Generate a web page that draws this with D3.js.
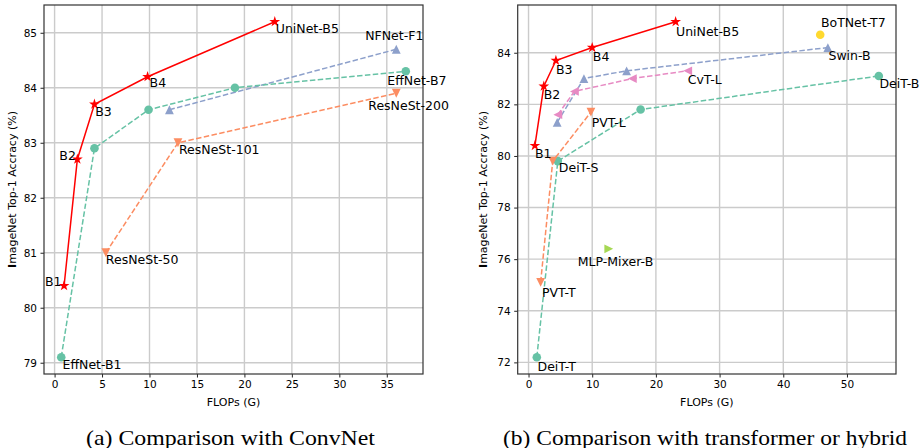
<!DOCTYPE html>
<html>
<head>
<meta charset="utf-8">
<script src="https://cdn.jsdelivr.net/npm/d3@7"></script>
<style>
body { margin: 0; background: white; }
svg text { font-family: "DejaVu Sans", sans-serif; fill: #000; }
</style>
</head>
<body>
<div id="chart"></div>
<script>
const width = 923;
const height = 448;

// ---- (a) comparison with ConvNet ----
const uniFlopsA = [1.0, 2.4, 4.2, 9.8, 23.2];
const uniAccA = [80.4, 82.7, 83.7, 84.2, 85.2];
const uniNamesA = ["B1", "B2", "B3", "B4", "UniNet-B5"];

const effFlops = [0.7, 4.2, 9.9, 19.0, 37.0];
const effAcc = [79.1, 82.9, 83.6, 84.0, 84.3];
const effNames = ["EffNet-B1", "", "", "", "EffNet-B7"];

const nfFlops = [12.1, 36.0];
const nfAcc = [83.6, 84.7];
const nfNames = ["", "NFNet-F1"];

const resnestFlops = [5.4, 13.0, 36.0];
const resnestAcc = [81.0, 83.0, 83.9];
const resnestNames = ["ResNeSt-50", "ResNeSt-101", "ResNeSt-200"];

const xTicksA = [0, 5, 10, 15, 20, 25, 30, 35];
const yTicksA = [79, 80, 81, 82, 83, 84, 85];

// ---- (b) comparison with transformer or hybrid ----
const uniFlopsB = [1.0, 2.4, 4.3, 10.0, 23.1];
const uniAccB = [80.4, 82.7, 83.7, 84.2, 85.2];
const uniNamesB = ["B1", "B2", "B3", "B4", "UniNet-B5"];

const deitFlops = [1.3, 4.6, 17.6, 55.0];
const deitAcc = [72.2, 79.8, 81.8, 83.1];
const deitNames = ["DeiT-T", "DeiT-S", "", "DeiT-B"];

const pvtFlops = [1.9, 3.8, 9.8];
const pvtAcc = [75.1, 79.8, 81.7];
const pvtNames = ["PVT-T", "", "PVT-L"];

const swinFlops = [4.5, 8.7, 15.4, 47.0];
const swinAcc = [81.3, 83.0, 83.3, 84.2];
const swinNames = ["", "", "", "Swin-B"];

const cvtFlops = [4.6, 7.2, 16.3, 25.0];
const cvtAcc = [81.6, 82.5, 83.0, 83.3];
const cvtNames = ["", "", "", "CvT-L"];

const botFlops = [45.8];
const botAcc = [84.7];
const botNames = ["BoTNet-T7"];

const mixerFlops = [12.6];
const mixerAcc = [76.4];
const mixerNames = ["MLP-Mixer-B"];

const xTicksB = [0, 10, 20, 30, 40, 50];
const yTicksB = [72, 74, 76, 78, 80, 82, 84];

// label placement: anchor, dx, dy (pixels from the point, dy to baseline)
const labelPosA = {
    "B1": ["end", -2.5, 0.5], "B2": ["end", -1.5, 0.5], "B3": ["start", 0.7, 11.3],
    "B4": ["start", 2, 10], "UniNet-B5": ["start", 1, 11.3],
    "EffNet-B1": ["start", 1.3, 11.3], "EffNet-B7": ["start", -18.4, 13.3],
    "NFNet-F1": ["middle", -2, -9.5],
    "ResNeSt-50": ["start", 0, 11.7], "ResNeSt-101": ["start", 1, 11.3], "ResNeSt-200": ["start", -28, 17]
};
const labelPosB = {
    "B1": ["start", 0, 12], "B2": ["start", 0, 13], "B3": ["start", 0, 13.3],
    "B4": ["start", 0.6, 13.3], "UniNet-B5": ["start", 0.4, 14],
    "DeiT-T": ["start", 0.7, 13.7], "DeiT-S": ["start", 1, 11.3], "DeiT-B": ["start", 0.6, 12.3],
    "PVT-T": ["start", 1.4, 14.3], "PVT-L": ["start", 0.7, 14.7],
    "Swin-B": ["start", 0.6, 12.3], "CvT-L": ["start", 0, 13.3],
    "BoTNet-T7": ["start", 0.7, -7.5], "MLP-Mixer-B": ["start", -31, 16.7]
};

const svg = d3.select("#chart")
    .append("svg")
    .attr("width", width)
    .attr("height", height);

function markerPath(type) {
    if (type === "star") return d3.symbol(d3.symbolStar, 36)();
    if (type === "circle") return d3.symbol(d3.symbolCircle, 58)();
    const h = 4.4;
    const up = [[0, -h], [-h, h], [h, h]];
    const rot = {up: 0, down: 180, left: -90, right: 90}[type];
    const a = rot * Math.PI / 180;
    const pts = up.map(p => [p[0] * Math.cos(a) - p[1] * Math.sin(a), p[0] * Math.sin(a) + p[1] * Math.cos(a)]);
    return "M" + pts.map(p => p.join(",")).join("L") + "Z";
}

// matplotlib style 5% margins around the data
function padded(vals) {
    const ext = d3.extent(vals);
    const m = (ext[1] - ext[0]) * 0.05;
    return [ext[0] - m, ext[1] + m];
}

function drawPanel(p) {
    const g = svg.append("g");
    const allX = p.series.flatMap(s => s.x);
    const allY = p.series.flatMap(s => s.y);

    const x = d3.scaleLinear().domain(padded(allX)).range([p.left, p.right]);
    const y = d3.scaleLinear().domain(padded(allY)).range([p.bottom, p.top]);

    // grid
    g.append("g").selectAll("line")
        .data(p.xTicks)
        .join("line")
        .attr("x1", d => x(d)).attr("x2", d => x(d))
        .attr("y1", p.top).attr("y2", p.bottom)
        .attr("stroke", "#cbcbcb").attr("stroke-width", 1.4);
    g.append("g").selectAll("line")
        .data(p.yTicks)
        .join("line")
        .attr("x1", p.left).attr("x2", p.right)
        .attr("y1", d => y(d)).attr("y2", d => y(d))
        .attr("stroke", "#cbcbcb").attr("stroke-width", 1.4);

    // axes
    const xAxis = g.append("g")
        .attr("transform", "translate(0," + p.bottom + ")")
        .call(d3.axisBottom(x).tickValues(p.xTicks).tickFormat(d3.format("d"))
            .tickSize(3.5).tickPadding(3.5).tickSizeOuter(0));
    const yAxis = g.append("g")
        .attr("transform", "translate(" + p.left + ",0)")
        .call(d3.axisLeft(y).tickValues(p.yTicks).tickFormat(d3.format("d"))
            .tickSize(3.5).tickPadding(3.5).tickSizeOuter(0));
    [xAxis, yAxis].forEach(ax => {
        ax.select(".domain").remove();
        ax.selectAll("line").attr("stroke", "#222").attr("stroke-width", 1);
        ax.selectAll("text").style("font-size", "10.5px").attr("fill", "#111");
    });

    g.append("rect")
        .attr("x", p.left).attr("y", p.top)
        .attr("width", p.right - p.left).attr("height", p.bottom - p.top)
        .attr("fill", "none").attr("stroke", "#333").attr("stroke-width", 1.2);

    g.append("text")
        .attr("x", (p.left + p.right) / 2)
        .attr("y", p.bottom + 32)
        .attr("text-anchor", "middle")
        .style("font-size", "11px")
        .text("FLOPs (G)");

    const yl = g.append("text")
        .attr("transform", "translate(" + p.yLabelX + "," + (p.top + p.bottom) / 2 + ") rotate(-90)")
        .attr("text-anchor", "middle")
        .style("font-size", "11px");
    yl.append("tspan").style("font-weight", "bold").text("I");
    yl.append("tspan").text("mageNet Top-1 Accracy (%)");

    const line = d3.line().x(d => x(d[0])).y(d => y(d[1]));

    p.series.forEach(s => {
        const pts = s.x.map((v, i) => [v, s.y[i], s.names[i]]);
        if (pts.length > 1) {
            g.append("path")
                .datum(pts)
                .attr("d", line)
                .attr("fill", "none")
                .attr("stroke", s.color)
                .attr("stroke-width", 1.5)
                .attr("stroke-dasharray", s.dashed ? "5.5,2.4" : null);
        }
        g.append("g").selectAll("path")
            .data(pts)
            .join("path")
            .attr("transform", d => "translate(" + x(d[0]) + "," + y(d[1]) + ")")
            .attr("d", markerPath(s.marker))
            .attr("fill", s.color);
    });

    p.series.forEach(s => {
        s.x.forEach((v, i) => {
            const name = s.names[i];
            if (!name) return;
            const pos = p.labelPos[name];
            g.append("text")
                .attr("x", x(v) + pos[1])
                .attr("y", y(s.y[i]) + pos[2])
                .attr("text-anchor", pos[0])
                .style("font-size", "12.5px")
                .text(name);
        });
    });

    svg.append("text")
        .attr("x", p.captionX)
        .attr("y", 444.5)
        .attr("text-anchor", "middle")
        .attr("textLength", p.captionWidth)
        .attr("lengthAdjust", "spacingAndGlyphs")
        .style("font-family", "'Liberation Serif', 'Times New Roman', serif")
        .style("font-size", "21px")
        .text(p.caption);
}

drawPanel({
    left: 44, right: 423, top: 5, bottom: 374,
    yLabelX: 16, captionX: 230.5, captionWidth: 289,
    caption: "(a) Comparison with ConvNet",
    xTicks: xTicksA, yTicks: yTicksA, labelPos: labelPosA,
    series: [
        {x: resnestFlops, y: resnestAcc, names: resnestNames, color: "#fc8d62", marker: "down", dashed: true},
        {x: nfFlops, y: nfAcc, names: nfNames, color: "#8da0cb", marker: "up", dashed: true},
        {x: effFlops, y: effAcc, names: effNames, color: "#66c2a5", marker: "circle", dashed: true},
        {x: uniFlopsA, y: uniAccA, names: uniNamesA, color: "#ff0000", marker: "star", dashed: false}
    ]
});

drawPanel({
    left: 517.7, right: 896, top: 5, bottom: 374,
    yLabelX: 487, captionX: 705, captionWidth: 404,
    caption: "(b) Comparison with transformer or hybrid",
    xTicks: xTicksB, yTicks: yTicksB, labelPos: labelPosB,
    series: [
        {x: deitFlops, y: deitAcc, names: deitNames, color: "#66c2a5", marker: "circle", dashed: true},
        {x: pvtFlops, y: pvtAcc, names: pvtNames, color: "#fc8d62", marker: "down", dashed: true},
        {x: swinFlops, y: swinAcc, names: swinNames, color: "#8da0cb", marker: "up", dashed: true},
        {x: cvtFlops, y: cvtAcc, names: cvtNames, color: "#e78ac3", marker: "left", dashed: true},
        {x: botFlops, y: botAcc, names: botNames, color: "#ffd92f", marker: "circle", dashed: false},
        {x: mixerFlops, y: mixerAcc, names: mixerNames, color: "#a6d854", marker: "right", dashed: false},
        {x: uniFlopsB, y: uniAccB, names: uniNamesB, color: "#ff0000", marker: "star", dashed: false}
    ]
});
</script>
</body>
</html>
